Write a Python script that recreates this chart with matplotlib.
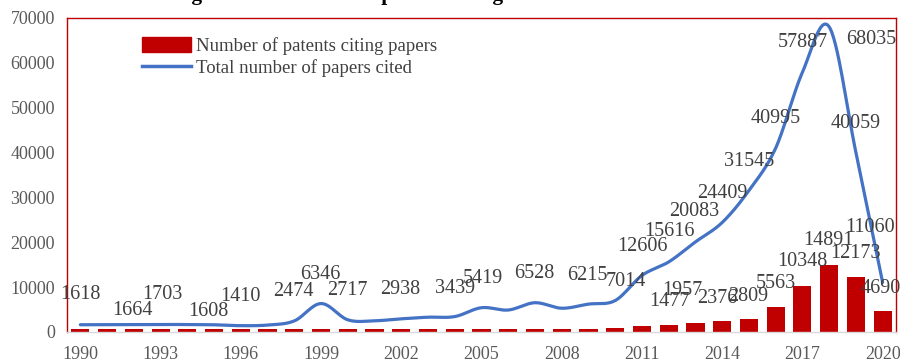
import numpy as np
import matplotlib
matplotlib.use("Agg")
import matplotlib.pyplot as plt
from matplotlib.patches import Patch
from matplotlib.lines import Line2D

years = list(range(1990, 2021))
papers_cited = [1618, 1640, 1664, 1703, 1650, 1608, 1410, 1550, 2474, 6346,
                2717, 2500, 2938, 3300, 3439, 5419, 4900, 6528, 5300, 6215,
                7014, 12606, 15616, 20083, 24409, 31545, 40995, 57887, 68035, 40059,
                11060]
patents_citing = [560, 560, 580, 570, 560, 580, 590, 700, 590, 620,
                  600, 590, 610, 600, 610, 620, 610, 630, 640, 660,
                  950, 1250, 1477, 1957, 2376, 2809, 5563, 10348, 14891, 12173,
                  4690]

line_label_text = ["1618", "1664", "1703", "1608", "1410", "2474", "6346", "2717",
                   "2938", "3439", "5419", "6528", "6215", "7014", "12606", "15616",
                   "20083", "24409", "31545", "40995", "57887", "68035", "40059", "11060"]
line_label_x = [1990.0, 1991.95, 1993.07, 1994.79, 1995.99, 1997.97, 1998.98, 1999.99,
                2001.97, 2004.03, 2005.04, 2006.98, 2008.97, 2010.39, 2011.03, 2012.04,
                2012.97, 2014.02, 2014.99, 2016.0, 2017.01, 2019.59, 2018.99, 2019.52]
line_label_y = [8250, 4900, 8250, 4530, 7870, 8980, 12860, 9360,
                9510, 9730, 11960, 12930, 12550, 11210, 19170, 22360,
                26820, 30910, 38120, 47630, 64490, 65250, 46520, 23250]

bar_label_text = ["1477", "1957", "2376", "2809", "5563", "10348", "14891", "12173", "4690"]
bar_label_x = [2012.04, 2012.52, 2013.83, 2014.99, 2016.0, 2017.01, 2017.98, 2018.99, 2019.93]
bar_label_y = [6760, 9360, 7510, 7870, 10850, 15670, 20350, 17540, 9730]

yticks = [0, 10000, 20000, 30000, 40000, 50000, 60000, 70000]
xticks = years[::3]

BAR_COLOR = "#C00000"
LINE_COLOR = "#4472C4"
SERIF = ["Liberation Serif", "DejaVu Serif"]


def smooth_curve(xs, ys, n=30):
    xs = np.asarray(xs, float)
    ys = np.asarray(ys, float)
    px = np.concatenate([[xs[0]], xs, [xs[-1]]])
    py = np.concatenate([[ys[0]], ys, [ys[-1]]])
    outx, outy = [], []
    t = np.linspace(0, 1, n)
    for i in range(1, len(px) - 2):
        p0 = np.array([px[i], py[i]])
        p3 = np.array([px[i + 1], py[i + 1]])
        p1 = p0 + (np.array([px[i + 1], py[i + 1]]) - np.array([px[i - 1], py[i - 1]])) / 6
        p2 = p3 - (np.array([px[i + 2], py[i + 2]]) - np.array([px[i], py[i]])) / 6
        b = ((1 - t) ** 3)[:, None] * p0 + (3 * (1 - t) ** 2 * t)[:, None] * p1 \
            + (3 * (1 - t) * t ** 2)[:, None] * p2 + (t ** 3)[:, None] * p3
        outx.extend(b[:, 0])
        outy.extend(b[:, 1])
    return outx, outy


fig = plt.figure(figsize=(9, 3.63), dpi=100)
ax = fig.add_axes([67 / 900, 1 - 332 / 363, (896 - 67) / 900, (332 - 18) / 363])

ax.bar(years, patents_citing, width=0.68, color=BAR_COLOR, zorder=2)
sx, sy = smooth_curve(years, papers_cited)
ax.plot(sx, sy, color=LINE_COLOR, lw=2.3, zorder=3, solid_capstyle="round")

for t, x, y in zip(line_label_text, line_label_x, line_label_y):
    ax.text(x, y, t, ha="center", va="center", fontsize=14.5, color="#404040",
            family=SERIF, zorder=4)
for t, x, y in zip(bar_label_text, bar_label_x, bar_label_y):
    ax.text(x, y, t, ha="center", va="center", fontsize=14.5, color="#404040",
            family=SERIF, zorder=4)

ax.set_xlim(1989.5, 2020.5)
ax.set_ylim(0, 70000)
ax.set_yticks(yticks)
ax.set_yticklabels([str(v) for v in yticks])
ax.set_xticks(xticks)
ax.set_xticklabels([str(v) for v in xticks])
ax.tick_params(length=0, labelsize=13, labelcolor="#595959")
ax.tick_params(axis="y", pad=8.6)
ax.tick_params(axis="x", pad=10)
for lab in ax.get_xticklabels() + ax.get_yticklabels():
    lab.set_family(SERIF)

for s in ["top", "left", "right"]:
    ax.spines[s].set_color(BAR_COLOR)
    ax.spines[s].set_linewidth(1.0)
ax.spines["bottom"].set_color("#D9D9D9")
ax.spines["bottom"].set_linewidth(1.0)

handles = [Patch(facecolor=BAR_COLOR, edgecolor=BAR_COLOR),
           Line2D([0], [0], color=LINE_COLOR, lw=2.5)]
labels = ["Number of patents citing papers", "Total number of papers cited"]
leg = ax.legend(handles, labels, loc="upper left", bbox_to_anchor=(0.0905, 0.94),
                frameon=False, borderpad=0, borderaxespad=0, handlelength=2.6,
                handleheight=0.85, handletextpad=0.3, labelspacing=0.2,
                prop={"family": SERIF, "size": 13.5})
for txt in leg.get_texts():
    txt.set_color("#404040")

fig.text(142 / 900, 1.0, "Changes in the number of patents citing", ha="left",
         va="baseline", fontsize=15.3, fontweight="bold", family=SERIF, color="black")

fig.savefig("out.png", dpi=100)
